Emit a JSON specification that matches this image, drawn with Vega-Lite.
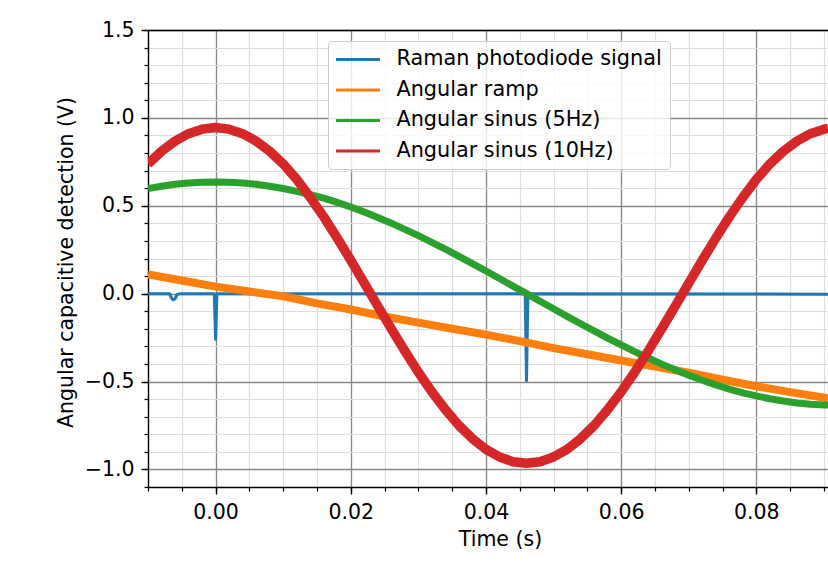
{
  "$schema": "https://vega.github.io/schema/vega-lite/v6.json",
  "width": 680,
  "height": 457,
  "autosize": {"type": "none"},
  "padding": {"left": 148, "top": 30, "right": 0, "bottom": 89},
  "config": {
    "view": {"stroke": null},
    "font": "DejaVu Sans",
    "axis": {"labelFont": "DejaVu Sans", "titleFont": "DejaVu Sans", "labelColor": "#000", "titleColor": "#000", "titleFontWeight": "normal"}
  },
  "data": {"values": [
    {"t": -0.01, "v": 0.0, "s": "Raman photodiode signal"},
    {"t": -0.0068, "v": 0.0, "s": "Raman photodiode signal"},
    {"t": -0.0066, "v": -0.02, "s": "Raman photodiode signal"},
    {"t": -0.0063, "v": -0.035, "s": "Raman photodiode signal"},
    {"t": -0.006, "v": -0.03, "s": "Raman photodiode signal"},
    {"t": -0.0057, "v": -0.005, "s": "Raman photodiode signal"},
    {"t": -0.0052, "v": 0.0, "s": "Raman photodiode signal"},
    {"t": -0.0002, "v": 0.0, "s": "Raman photodiode signal"},
    {"t": 0.0, "v": -0.26, "s": "Raman photodiode signal"},
    {"t": 0.0002, "v": 0.0, "s": "Raman photodiode signal"},
    {"t": 0.02, "v": 0.0, "s": "Raman photodiode signal"},
    {"t": 0.0458, "v": 0.0, "s": "Raman photodiode signal"},
    {"t": 0.046, "v": -0.495, "s": "Raman photodiode signal"},
    {"t": 0.0462, "v": 0.0, "s": "Raman photodiode signal"},
    {"t": 0.0906, "v": -0.003, "s": "Raman photodiode signal"},

    {"t": -0.01, "v": 0.11, "s": "Angular ramp"},
    {"t": -0.005, "v": 0.075, "s": "Angular ramp"},
    {"t": 0.0, "v": 0.04, "s": "Angular ramp"},
    {"t": 0.005, "v": 0.012, "s": "Angular ramp"},
    {"t": 0.01, "v": -0.015, "s": "Angular ramp"},
    {"t": 0.015, "v": -0.055, "s": "Angular ramp"},
    {"t": 0.02, "v": -0.09, "s": "Angular ramp"},
    {"t": 0.025, "v": -0.13, "s": "Angular ramp"},
    {"t": 0.03, "v": -0.165, "s": "Angular ramp"},
    {"t": 0.035, "v": -0.2, "s": "Angular ramp"},
    {"t": 0.04, "v": -0.233, "s": "Angular ramp"},
    {"t": 0.045, "v": -0.27, "s": "Angular ramp"},
    {"t": 0.05, "v": -0.31, "s": "Angular ramp"},
    {"t": 0.055, "v": -0.345, "s": "Angular ramp"},
    {"t": 0.06, "v": -0.38, "s": "Angular ramp"},
    {"t": 0.065, "v": -0.415, "s": "Angular ramp"},
    {"t": 0.07, "v": -0.45, "s": "Angular ramp"},
    {"t": 0.075, "v": -0.49, "s": "Angular ramp"},
    {"t": 0.08, "v": -0.527, "s": "Angular ramp"},
    {"t": 0.085, "v": -0.56, "s": "Angular ramp"},
    {"t": 0.0906, "v": -0.595, "s": "Angular ramp"},

    {"t": -0.01, "v": 0.598, "s": "Angular sinus (5Hz)"},
    {"t": -0.008, "v": 0.611, "s": "Angular sinus (5Hz)"},
    {"t": -0.006, "v": 0.622, "s": "Angular sinus (5Hz)"},
    {"t": -0.004, "v": 0.629, "s": "Angular sinus (5Hz)"},
    {"t": -0.002, "v": 0.634, "s": "Angular sinus (5Hz)"},
    {"t": 0.0, "v": 0.635, "s": "Angular sinus (5Hz)"},
    {"t": 0.002, "v": 0.634, "s": "Angular sinus (5Hz)"},
    {"t": 0.004, "v": 0.629, "s": "Angular sinus (5Hz)"},
    {"t": 0.006, "v": 0.622, "s": "Angular sinus (5Hz)"},
    {"t": 0.008, "v": 0.611, "s": "Angular sinus (5Hz)"},
    {"t": 0.01, "v": 0.598, "s": "Angular sinus (5Hz)"},
    {"t": 0.012, "v": 0.582, "s": "Angular sinus (5Hz)"},
    {"t": 0.014, "v": 0.564, "s": "Angular sinus (5Hz)"},
    {"t": 0.016, "v": 0.543, "s": "Angular sinus (5Hz)"},
    {"t": 0.018, "v": 0.519, "s": "Angular sinus (5Hz)"},
    {"t": 0.02, "v": 0.493, "s": "Angular sinus (5Hz)"},
    {"t": 0.022, "v": 0.464, "s": "Angular sinus (5Hz)"},
    {"t": 0.024, "v": 0.433, "s": "Angular sinus (5Hz)"},
    {"t": 0.026, "v": 0.401, "s": "Angular sinus (5Hz)"},
    {"t": 0.028, "v": 0.366, "s": "Angular sinus (5Hz)"},
    {"t": 0.03, "v": 0.33, "s": "Angular sinus (5Hz)"},
    {"t": 0.032, "v": 0.292, "s": "Angular sinus (5Hz)"},
    {"t": 0.034, "v": 0.253, "s": "Angular sinus (5Hz)"},
    {"t": 0.036, "v": 0.212, "s": "Angular sinus (5Hz)"},
    {"t": 0.038, "v": 0.171, "s": "Angular sinus (5Hz)"},
    {"t": 0.04, "v": 0.129, "s": "Angular sinus (5Hz)"},
    {"t": 0.042, "v": 0.086, "s": "Angular sinus (5Hz)"},
    {"t": 0.044, "v": 0.043, "s": "Angular sinus (5Hz)"},
    {"t": 0.046, "v": 0.0, "s": "Angular sinus (5Hz)"},
    {"t": 0.048, "v": -0.043, "s": "Angular sinus (5Hz)"},
    {"t": 0.05, "v": -0.086, "s": "Angular sinus (5Hz)"},
    {"t": 0.052, "v": -0.129, "s": "Angular sinus (5Hz)"},
    {"t": 0.054, "v": -0.171, "s": "Angular sinus (5Hz)"},
    {"t": 0.056, "v": -0.212, "s": "Angular sinus (5Hz)"},
    {"t": 0.058, "v": -0.253, "s": "Angular sinus (5Hz)"},
    {"t": 0.06, "v": -0.292, "s": "Angular sinus (5Hz)"},
    {"t": 0.062, "v": -0.33, "s": "Angular sinus (5Hz)"},
    {"t": 0.064, "v": -0.366, "s": "Angular sinus (5Hz)"},
    {"t": 0.066, "v": -0.401, "s": "Angular sinus (5Hz)"},
    {"t": 0.068, "v": -0.433, "s": "Angular sinus (5Hz)"},
    {"t": 0.07, "v": -0.464, "s": "Angular sinus (5Hz)"},
    {"t": 0.072, "v": -0.493, "s": "Angular sinus (5Hz)"},
    {"t": 0.074, "v": -0.519, "s": "Angular sinus (5Hz)"},
    {"t": 0.076, "v": -0.543, "s": "Angular sinus (5Hz)"},
    {"t": 0.078, "v": -0.564, "s": "Angular sinus (5Hz)"},
    {"t": 0.08, "v": -0.582, "s": "Angular sinus (5Hz)"},
    {"t": 0.082, "v": -0.598, "s": "Angular sinus (5Hz)"},
    {"t": 0.084, "v": -0.611, "s": "Angular sinus (5Hz)"},
    {"t": 0.086, "v": -0.622, "s": "Angular sinus (5Hz)"},
    {"t": 0.088, "v": -0.629, "s": "Angular sinus (5Hz)"},
    {"t": 0.09, "v": -0.634, "s": "Angular sinus (5Hz)"},
    {"t": 0.0906, "v": -0.634, "s": "Angular sinus (5Hz)"},

    {"t": -0.01, "v": 0.738, "s": "Angular sinus (10Hz)"},
    {"t": -0.008, "v": 0.81, "s": "Angular sinus (10Hz)"},
    {"t": -0.006, "v": 0.868, "s": "Angular sinus (10Hz)"},
    {"t": -0.004, "v": 0.91, "s": "Angular sinus (10Hz)"},
    {"t": -0.002, "v": 0.936, "s": "Angular sinus (10Hz)"},
    {"t": 0.0, "v": 0.945, "s": "Angular sinus (10Hz)"},
    {"t": 0.002, "v": 0.936, "s": "Angular sinus (10Hz)"},
    {"t": 0.004, "v": 0.91, "s": "Angular sinus (10Hz)"},
    {"t": 0.006, "v": 0.868, "s": "Angular sinus (10Hz)"},
    {"t": 0.008, "v": 0.81, "s": "Angular sinus (10Hz)"},
    {"t": 0.01, "v": 0.738, "s": "Angular sinus (10Hz)"},
    {"t": 0.012, "v": 0.65, "s": "Angular sinus (10Hz)"},
    {"t": 0.014, "v": 0.548, "s": "Angular sinus (10Hz)"},
    {"t": 0.016, "v": 0.437, "s": "Angular sinus (10Hz)"},
    {"t": 0.018, "v": 0.316, "s": "Angular sinus (10Hz)"},
    {"t": 0.02, "v": 0.19, "s": "Angular sinus (10Hz)"},
    {"t": 0.022, "v": 0.06, "s": "Angular sinus (10Hz)"},
    {"t": 0.024, "v": -0.071, "s": "Angular sinus (10Hz)"},
    {"t": 0.026, "v": -0.2, "s": "Angular sinus (10Hz)"},
    {"t": 0.028, "v": -0.326, "s": "Angular sinus (10Hz)"},
    {"t": 0.03, "v": -0.447, "s": "Angular sinus (10Hz)"},
    {"t": 0.032, "v": -0.559, "s": "Angular sinus (10Hz)"},
    {"t": 0.034, "v": -0.66, "s": "Angular sinus (10Hz)"},
    {"t": 0.036, "v": -0.75, "s": "Angular sinus (10Hz)"},
    {"t": 0.038, "v": -0.825, "s": "Angular sinus (10Hz)"},
    {"t": 0.04, "v": -0.886, "s": "Angular sinus (10Hz)"},
    {"t": 0.042, "v": -0.929, "s": "Angular sinus (10Hz)"},
    {"t": 0.044, "v": -0.956, "s": "Angular sinus (10Hz)"},
    {"t": 0.046, "v": -0.965, "s": "Angular sinus (10Hz)"},
    {"t": 0.048, "v": -0.956, "s": "Angular sinus (10Hz)"},
    {"t": 0.05, "v": -0.929, "s": "Angular sinus (10Hz)"},
    {"t": 0.052, "v": -0.886, "s": "Angular sinus (10Hz)"},
    {"t": 0.054, "v": -0.825, "s": "Angular sinus (10Hz)"},
    {"t": 0.056, "v": -0.75, "s": "Angular sinus (10Hz)"},
    {"t": 0.058, "v": -0.66, "s": "Angular sinus (10Hz)"},
    {"t": 0.06, "v": -0.559, "s": "Angular sinus (10Hz)"},
    {"t": 0.062, "v": -0.447, "s": "Angular sinus (10Hz)"},
    {"t": 0.064, "v": -0.326, "s": "Angular sinus (10Hz)"},
    {"t": 0.066, "v": -0.2, "s": "Angular sinus (10Hz)"},
    {"t": 0.068, "v": -0.071, "s": "Angular sinus (10Hz)"},
    {"t": 0.07, "v": 0.06, "s": "Angular sinus (10Hz)"},
    {"t": 0.072, "v": 0.19, "s": "Angular sinus (10Hz)"},
    {"t": 0.074, "v": 0.316, "s": "Angular sinus (10Hz)"},
    {"t": 0.076, "v": 0.437, "s": "Angular sinus (10Hz)"},
    {"t": 0.078, "v": 0.548, "s": "Angular sinus (10Hz)"},
    {"t": 0.08, "v": 0.65, "s": "Angular sinus (10Hz)"},
    {"t": 0.082, "v": 0.738, "s": "Angular sinus (10Hz)"},
    {"t": 0.084, "v": 0.81, "s": "Angular sinus (10Hz)"},
    {"t": 0.086, "v": 0.868, "s": "Angular sinus (10Hz)"},
    {"t": 0.088, "v": 0.91, "s": "Angular sinus (10Hz)"},
    {"t": 0.09, "v": 0.936, "s": "Angular sinus (10Hz)"},
    {"t": 0.0906, "v": 0.94, "s": "Angular sinus (10Hz)"}
  ]},
  "layer": [
    {
      "mark": {"type": "line", "opacity": 0},
      "encoding": {
        "x": {"field": "t", "type": "quantitative",
          "scale": {"domain": [-0.01, 0.0906], "nice": false, "zero": false},
          "axis": {"orient": "bottom", "values": [-0.01, -0.005, 0, 0.005, 0.01, 0.015, 0.02, 0.025, 0.03, 0.035, 0.04, 0.045, 0.05, 0.055, 0.06, 0.065, 0.07, 0.075, 0.08, 0.085, 0.09],
            "grid": true, "gridColor": "#dedede", "gridWidth": 1.2, "ticks": true, "tickSize": 4, "tickWidth": 1.2, "tickColor": "#000",
            "labels": false, "domain": false, "title": null}},
        "y": {"field": "v", "type": "quantitative",
          "scale": {"domain": [-1.1, 1.5], "nice": false, "zero": false},
          "axis": {"orient": "left", "values": [-1.1, -1.0, -0.9, -0.8, -0.7, -0.6, -0.5, -0.4, -0.3, -0.2, -0.1, 0, 0.1, 0.2, 0.3, 0.4, 0.5, 0.6, 0.7, 0.8, 0.9, 1.0, 1.1, 1.2, 1.3, 1.4, 1.5],
            "grid": true, "gridColor": "#dedede", "gridWidth": 1.2, "ticks": true, "tickSize": 4, "tickWidth": 1.2, "tickColor": "#000",
            "labels": false, "domain": false, "title": null}}
      }
    },
    {
      "mark": {"type": "line", "strokeJoin": "round", "clip": true},
      "encoding": {
        "x": {"field": "t", "type": "quantitative",
          "scale": {"domain": [-0.01, 0.0906], "nice": false, "zero": false},
          "axis": {"orient": "bottom", "values": [0, 0.02, 0.04, 0.06, 0.08], "format": ".2f",
            "grid": true, "gridColor": "#888888", "gridWidth": 1.3, "tickSize": 7, "tickWidth": 1.4, "tickColor": "#000",
            "domain": true, "domainColor": "#000", "domainWidth": 1.4,
            "labelFontSize": 20.5, "labelPadding": 8,
            "title": "Time (s)", "titleFontSize": 20.5, "titleX": 352, "titleY": 58, "titleAlign": "center", "titleBaseline": "alphabetic"}},
        "y": {"field": "v", "type": "quantitative",
          "scale": {"domain": [-1.1, 1.5], "nice": false, "zero": false},
          "axis": {"orient": "left", "values": [-1.0, -0.5, 0, 0.5, 1.0, 1.5], "format": ".1f",
            "grid": true, "gridColor": "#888888", "gridWidth": 1.3, "tickSize": 7, "tickWidth": 1.4, "tickColor": "#000",
            "domain": true, "domainColor": "#000", "domainWidth": 1.4,
            "labelFontSize": 20.5, "labelPadding": 7,
            "title": "Angular capacitive detection (V)", "titleFontSize": 20.5, "titleAngle": 270,
            "titleX": -76, "titleY": 232, "titleAlign": "center", "titleBaseline": "alphabetic"}},
        "color": {"field": "s", "type": "nominal",
          "scale": {"domain": ["Raman photodiode signal", "Angular ramp", "Angular sinus (5Hz)", "Angular sinus (10Hz)"],
                    "range": ["#1f77b4", "#ff7f0e", "#2ca02c", "#d62728"]},
          "legend": {"orient": "none", "legendX": 180, "legendY": 11, "title": null,
            "labelFontSize": 20.8, "labelFont": "DejaVu Sans", "labelColor": "#000", "labelLimit": 400,
            "symbolType": "M-2.75,0H2.75", "symbolSize": 256, "symbolStrokeWidth": 3, "symbolOffset": 11.6, "labelOffset": 28,
            "padding": 8, "rowPadding": 8.5, "fillColor": "rgba(255,255,255,0.8)", "strokeColor": "#cccccc", "cornerRadius": 4,
            "encode": {"symbols": {"update": {"strokeWidth": {"value": 3}, "fill": {"value": "transparent"}}}}}},
        "strokeWidth": {"condition": [
            {"test": "datum.s === 'Angular ramp'", "value": 8},
            {"test": "datum.s === 'Angular sinus (5Hz)'", "value": 7},
            {"test": "datum.s === 'Angular sinus (10Hz)'", "value": 9.5}
          ], "value": 3}
      }
    },
    {
      "mark": {"type": "line", "opacity": 0},
      "encoding": {
        "x": {"field": "t", "type": "quantitative",
          "scale": {"domain": [-0.01, 0.0906], "nice": false, "zero": false},
          "axis": {"orient": "top", "domain": true, "domainColor": "#000", "domainWidth": 1.4, "ticks": false, "labels": false, "grid": false, "title": null}},
        "y": {"field": "v", "type": "quantitative",
          "scale": {"domain": [-1.1, 1.5], "nice": false, "zero": false},
          "axis": null}
      }
    }
  ],
  "resolve": {"axis": {"x": "independent", "y": "independent"}}
}
